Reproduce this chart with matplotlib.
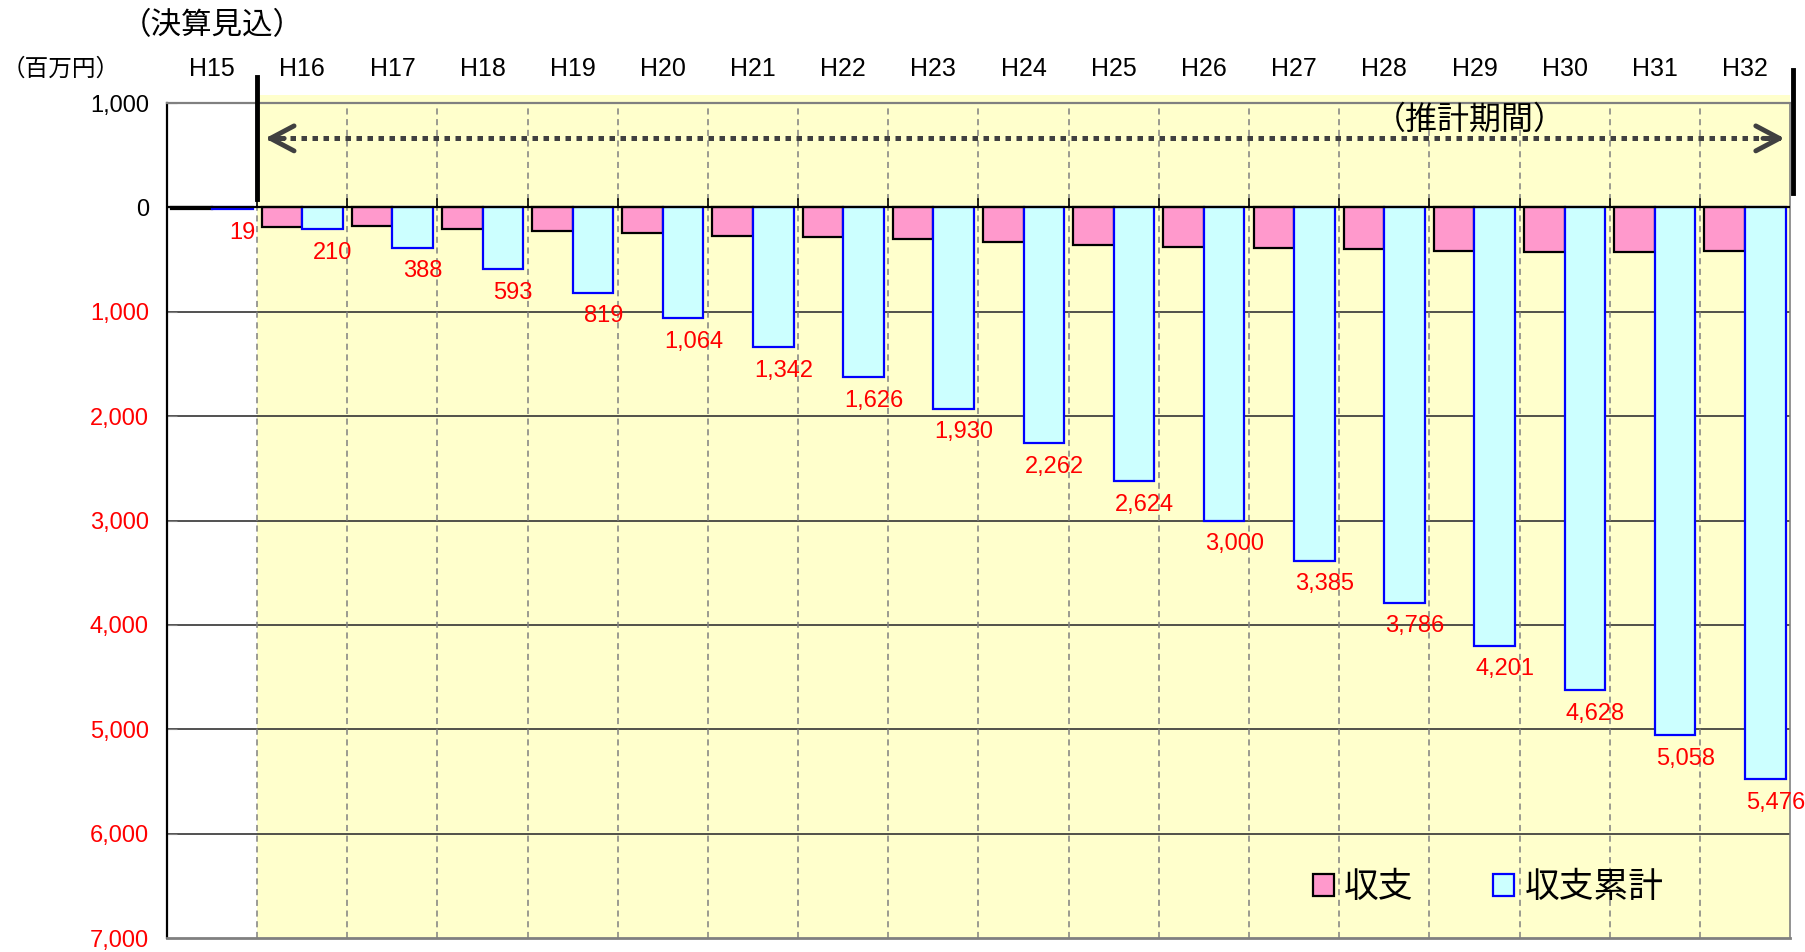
import matplotlib.pyplot as plt
import numpy as np
from matplotlib.patches import Rectangle, Patch

plt.rcParams["font.family"] = ["Liberation Sans", "Noto Sans CJK JP"]

years = ["H15", "H16", "H17", "H18", "H19", "H20", "H21", "H22", "H23",
         "H24", "H25", "H26", "H27", "H28", "H29", "H30", "H31", "H32"]
balance = [-19, -191, -178, -205, -226, -245, -278, -284, -304,
           -332, -362, -376, -385, -401, -415, -427, -430, -418]
cumulative = [-19, -210, -388, -593, -819, -1064, -1342, -1626, -1930,
              -2262, -2624, -3000, -3385, -3786, -4201, -4628, -5058, -5476]
y_ticks = [1000, 0, -1000, -2000, -3000, -4000, -5000, -6000, -7000]

PINK = "#FF99CC"
CYAN = "#CCFFFF"
YELLOW = "#FFFFCC"

fig = plt.figure(figsize=(18.05, 9.52), dpi=100)
ax = fig.add_axes([0.0925, 0.0147, 0.8992, 0.8771])

x = np.arange(len(years))
bw = 0.45
ax.set_xlim(-0.5, len(years) - 0.5)
ax.set_ylim(-7000, 1000)

# projection period background (spills slightly above the plot area)
ax.add_patch(Rectangle((0.5, -7000), len(years) - 1, 8077, facecolor=YELLOW,
                       edgecolor="none", zorder=0, clip_on=False))

for v in y_ticks[2:-1]:
    ax.axhline(v, color="#333333", lw=1.2, zorder=1)
for b in np.arange(0.5, len(years) - 1, 1.0):
    ax.axvline(b, color="#808080", lw=1.1, ls=(0, (4, 3)), zorder=1)
    ax.plot([b, b], [0, 80], color="black", lw=1.2, zorder=4)

ax.bar(x - bw / 2, balance, bw, color=PINK, edgecolor="black", lw=1.6,
       align="center", zorder=3)
ax.bar(x + bw / 2, cumulative, bw, color=CYAN, edgecolor="#0000FF", lw=1.6,
       align="center", zorder=3)
ax.axhline(0, color="black", lw=1.6, zorder=4)

for xi, v in zip(x, cumulative):
    ax.annotate(f"{abs(v):,}", xy=(xi + bw / 2, v), xytext=(7.5, -17),
                textcoords="offset points", ha="center", va="center",
                color="red", fontsize=17, zorder=5, annotation_clip=False)

# boundaries of the projection period
ax.plot([0.5, 0.5], [80, 1250], color="black", lw=3.5, zorder=6, clip_on=False)
ax.plot([17.53, 17.53], [140, 1320], color="black", lw=3.5, zorder=6, clip_on=False)

# double arrow
ya = 661
ax.plot([0.62, 17.40], [ya, ya], color="#404040", lw=3.6, ls=(0, (1.1, 1.1)),
        zorder=6, solid_capstyle="butt")
for tip, tail in [(0.59, 0.8), (17.44, 17.2)]:
    ax.annotate("", xy=(tip, ya), xytext=(tail, ya),
                arrowprops=dict(arrowstyle="->,head_length=0.85,head_width=0.45",
                                color="#404040", lw=3.5, shrinkA=0, shrinkB=0,
                                mutation_scale=20),
                zorder=6)
ax.text(13.95, 833, "（推計期間）", ha="center", va="center", fontsize=23, zorder=6)

# axes styling
ax.set_yticks(y_ticks)
ax.set_yticklabels([f"{abs(v):,}" for v in y_ticks], fontsize=17)
for lab, v in zip(ax.get_yticklabels(), y_ticks):
    lab.set_color("red" if v < 0 else "black")
ax.tick_params(axis="y", direction="in", length=7, color="#808080", pad=13)

ax.xaxis.tick_top()
ax.set_xticks(x)
ax.set_xticklabels(years, fontsize=18)
ax.tick_params(axis="x", length=0, pad=16)

ax.spines["left"].set_color("black")
ax.spines["left"].set_linewidth(1.6)
ax.spines["top"].set_color("#808080")
ax.spines["top"].set_linewidth(1.6)
ax.spines["bottom"].set_color("#808080")
ax.spines["bottom"].set_linewidth(2)
ax.spines["right"].set_color("#808080")
ax.spines["right"].set_linewidth(1.2)

fig.text(212 / 1805, 1 - 26 / 952, "（決算見込）", ha="center", va="center", fontsize=22)
fig.text(61 / 1805, 1 - 70 / 952, "（百万円）", ha="center", va="center", fontsize=17)

handles = [Patch(facecolor=PINK, edgecolor="black", lw=1.6, label="収支"),
           Patch(facecolor=CYAN, edgecolor="#0000FF", lw=1.6, label="収支累計")]
fig.legend(handles=handles, loc="center", bbox_to_anchor=(0.8245, 0.068), ncol=2,
           frameon=False, fontsize=25, handlelength=0.6, handleheight=0.6,
           handletextpad=0.3, columnspacing=2.3)

fig.savefig("out.png", dpi=100)
